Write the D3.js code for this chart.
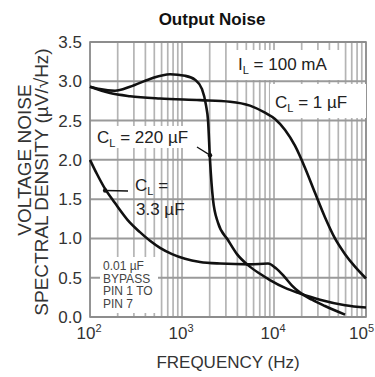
<!DOCTYPE html>
<html><head><meta charset="utf-8">
<script src="https://cdn.jsdelivr.net/npm/d3@7"></script>
<style>
html,body{margin:0;padding:0;background:#fff;}
svg{display:block;font-family:"Liberation Sans",Arial,sans-serif;}
</style></head>
<body><svg id="c" width="375" height="377"></svg>
<script>
// ---- data (frequency in Hz, noise in µV/√Hz) ----
const yTicks = [0.0, 0.5, 1.0, 1.5, 2.0, 2.5, 3.0, 3.5];
const xDecades = [2, 3, 4, 5];
const freq220 = [100,128,187,272,449,741,1080,1385,1650,1820,1920,2015,2170,2460,3160,3960,5210,7040,9050,13200,19200,31600,59200,100000];
const val220  = [2.93,2.90,2.88,2.93,3.03,3.09,3.07,3.02,2.90,2.70,2.50,2.00,1.50,1.20,0.98,0.80,0.66,0.55,0.47,0.37,0.30,0.22,0.15,0.12];
const freq1   = [100,165,272,577,1570,3330,5480,7980,10250,13200,16900,21700,27900,35800,46000,59200,75900,100000];
const val1    = [2.93,2.85,2.81,2.78,2.76,2.74,2.69,2.60,2.52,2.38,2.18,1.90,1.58,1.27,1.00,0.80,0.64,0.49];
const freq33  = [100,119,146,187,272,349,449,577,780,1080,1570,2590,5480,8610,10500,12800,15700,19200,25900,35800,59200];
const val33   = [2.00,1.82,1.63,1.45,1.20,1.08,0.97,0.88,0.80,0.74,0.70,0.68,0.67,0.68,0.62,0.52,0.40,0.31,0.22,0.14,0.03];

const svg = d3.select("#c");
const x = d3.scaleLog().domain([100, 1e5]).range([90, 366]);
const y = d3.scaleLinear().domain([0, 3.5]).range([317, 42]);

// grid: vertical
const vLines = [];
for (let k = 2; k < 5; k++) for (let m = 1; m <= 10; m++) vLines.push(m * Math.pow(10, k));
svg.append("g").selectAll("line").data(vLines).join("line")
  .attr("x1", d => x(d)).attr("x2", d => x(d))
  .attr("y1", y(3.5)).attr("y2", y(0))
  .attr("stroke", "#b4b4b4").attr("stroke-width", 1.7);
// grid: horizontal
svg.append("g").selectAll("line").data(yTicks).join("line")
  .attr("x1", x(100)).attr("x2", x(1e5))
  .attr("y1", d => y(d)).attr("y2", d => y(d))
  .attr("stroke", "#9a9a9a").attr("stroke-width", 2);
// frame
svg.append("rect").attr("x", x(100)).attr("y", y(3.5))
  .attr("width", x(1e5) - x(100)).attr("height", y(0) - y(3.5))
  .attr("fill", "none").attr("stroke", "#8a8a8a").attr("stroke-width", 1.6);

// annotation boxes (white backgrounds hiding grid)
const boxes = [[233, 50, 108, 30], [270, 84, 96, 34], [95, 126, 100, 22], [100, 257, 58, 56]];
svg.append("g").selectAll("rect").data(boxes).join("rect")
  .attr("x", d => d[0]).attr("y", d => d[1]).attr("width", d => d[2]).attr("height", d => d[3])
  .attr("fill", "#fff");

// curves
const line = d3.line().x(d => x(d[0])).y(d => y(d[1])).curve(d3.curveMonotoneX);
const series = [d3.zip(freq220, val220), d3.zip(freq1, val1), d3.zip(freq33, val33)];
svg.append("g").selectAll("path").data(series).join("path")
  .attr("d", line).attr("fill", "none").attr("stroke", "#111").attr("stroke-width", 2.6)
  .attr("stroke-linejoin", "round");

// axis tick labels
svg.append("g").selectAll("text").data(yTicks).join("text")
  .attr("x", 82).attr("y", d => y(d) + 6)
  .attr("text-anchor", "end").attr("font-size", 17).attr("fill", "#333")
  .text(d => d.toFixed(1));
const xl = svg.append("g").selectAll("text").data(xDecades).join("text")
  .attr("x", (d, i) => i === xDecades.length - 1 ? 374 : x(Math.pow(10, d)) - 1).attr("y", 339)
  .attr("text-anchor", (d, i) => i === xDecades.length - 1 ? "end" : "middle")
  .attr("font-size", 17).attr("fill", "#333");
xl.append("tspan").text("10");
xl.append("tspan").attr("dy", -7).attr("font-size", 11).text(d => d);

// titles
svg.append("text").attr("x", 212).attr("y", 25).attr("text-anchor", "middle")
  .attr("font-size", 17).attr("font-weight", "bold").attr("fill", "#111").text("Output Noise");
svg.append("text").attr("x", 228).attr("y", 368).attr("text-anchor", "middle")
  .attr("font-size", 17).attr("fill", "#333").text("FREQUENCY (Hz)");
svg.append("text").attr("transform", "translate(31,160) rotate(-90)").attr("text-anchor", "middle")
  .attr("font-size", 19).attr("fill", "#333").text("VOLTAGE NOISE");
svg.append("text").attr("transform", "translate(48,182) rotate(-90)").attr("text-anchor", "middle")
  .attr("font-size", 19).attr("fill", "#333").text("SPECTRAL DENSITY (µV/√Hz)");

// annotations
function sub(g, xx, yy, main, s, rest, fs) {
  const t = g.append("text").attr("x", xx).attr("y", yy).attr("font-size", fs).attr("fill", "#222");
  t.append("tspan").text(main);
  t.append("tspan").attr("dy", 4).attr("font-size", fs * 0.65).text(s);
  t.append("tspan").attr("dy", -4).text(rest);
}
const ann = svg.append("g");
sub(ann, 238, 70, "I", "L", " = 100 mA", 17);
sub(ann, 275, 108, "C", "L", " = 1 µF", 17);
sub(ann, 97, 143, "C", "L", " = 220 µF", 17);
sub(ann, 135, 191, "C", "L", " =", 17);
ann.append("text").attr("x", 136).attr("y", 215).attr("font-size", 17).attr("fill", "#222").text("3.3 µF");
const byp = ["0.01 µF", "BYPASS", "PIN 1 TO", "PIN 7"];
ann.selectAll(".byp").data(byp).join("text").attr("class", "byp")
  .attr("x", 103).attr("y", (d, i) => 270 + i * 12.5)
  .attr("font-size", 12).attr("fill", "#444").text(d => d);

// pointers to curves
const ptrs = [[197, 147, 2015, 2.06], [128, 191, 146, 1.61]];
ann.selectAll("line").data(ptrs).join("line")
  .attr("x1", d => d[0]).attr("y1", d => d[1])
  .attr("x2", d => x(d[2])).attr("y2", d => y(d[3]))
  .attr("stroke", "#111").attr("stroke-width", 1.3);
ann.selectAll("circle").data(ptrs).join("circle")
  .attr("cx", d => x(d[2])).attr("cy", d => y(d[3])).attr("r", 2.2).attr("fill", "#111");
</script></body></html>
